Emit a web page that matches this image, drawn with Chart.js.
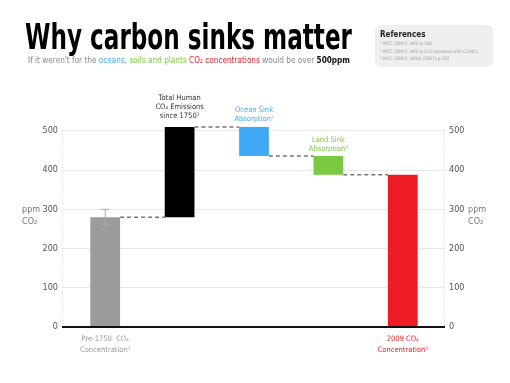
<!DOCTYPE html>
<html>
<head>
<meta charset="utf-8">
<script src="https://cdn.jsdelivr.net/npm/chart.js@4"></script>
<style>
html, body { margin: 0; padding: 0; background: #fff; }
</style>
</head>
<body>
<canvas id="chart" width="510" height="383"></canvas>
<script>
// data (ppm CO2)
const categories = ["Pre-1750 CO2", "Human emissions", "Ocean sink", "Land sink", "2009 CO2"];
const barLow = [0, 280, 436, 388, 0];
const barHigh = [280, 510, 510, 436, 388];
const errLow = [262, null, null, null, null];
const errHigh = [300, null, null, null, null];
const connectorValues = [280, 510, 436, 388];
const yTicks = [0, 100, 200, 300, 400, 500];
const barColors = ["#9b9b9b", "#000000", "#3fa9f5", "#7ac943", "#ed1c24"];

const NARROW = "'Liberation Sans Narrow', 'DejaVu Sans Condensed', 'Liberation Sans', sans-serif";
const HEAVY = "'DejaVu Sans Condensed', 'Liberation Sans Narrow', sans-serif";

function fitText(ctx, runs, x, y, width, align) {
    let total = 0;
    runs.forEach(r => { ctx.font = r.font; total += ctx.measureText(r.t).width; });
    const k = width ? width / total : 1;
    ctx.save();
    let start = x;
    if (align === "center") start = x - total * k / 2;
    ctx.translate(start, y);
    ctx.scale(k, 1);
    ctx.textAlign = "left";
    let cx = 0;
    runs.forEach(r => {
        ctx.font = r.font;
        ctx.fillStyle = r.c;
        ctx.fillText(r.t, cx, 0);
        cx += ctx.measureText(r.t).width;
    });
    ctx.restore();
}

function lbl(t, c, size, bold) {
    return { t: t, c: c, font: (bold ? "bold " : "") + size + "px " + NARROW };
}

const decorations = {
    id: "decorations",
    beforeDraw(chart) {
        const ctx = chart.ctx;
        ctx.save();
        ctx.fillStyle = "#fff";
        ctx.fillRect(0, 0, chart.width, chart.height);
        ctx.textBaseline = "alphabetic";
        // title
        fitText(ctx, [{ t: "Why carbon sinks matter", c: "#000", font: "bold 36px " + HEAVY }], 25, 49, 327);
        // subtitle
        fitText(ctx, [
            lbl("If it weren't for the ", "#8a8a8a", 8),
            lbl("oceans", "#3fa9f5", 8),
            lbl(", ", "#8a8a8a", 8),
            lbl("soils and plants ", "#7ac943", 8),
            lbl("CO\u2082 concentrations", "#ed1c24", 8),
            lbl(" would be over ", "#8a8a8a", 8),
            lbl("500ppm", "#111", 8, true)
        ], 28, 63, 322);
        // references box
        ctx.fillStyle = "#efefef";
        ctx.beginPath();
        ctx.roundRect(375, 25, 118, 42, 6);
        ctx.fill();
        fitText(ctx, [lbl("References", "#222", 8, true)], 380, 37);
        const refs = ["\u00b9 IPCC (2007), WGI p.100",
            "\u00b2 IPCC (2007), WGI p.515 (updated with CDIAC)",
            "\u00b3 IPCC (2007), WGIII (2007) p.102"];
        refs.forEach((r, i) => fitText(ctx, [lbl(r, "#9a9a9a", 4.6)], 380, 45 + i * 7.5));
        // axis titles
        [22, 468].forEach(x => {
            fitText(ctx, [lbl("ppm", "#777", 9)], x, 212);
            fitText(ctx, [lbl("CO\u2082", "#777", 9)], x, 224);
        });
        ctx.restore();
    },
    beforeDatasetsDraw(chart) {
        // faint dotted axis lines
        const ctx = chart.ctx;
        const area = chart.chartArea;
        ctx.save();
        ctx.strokeStyle = "#dcdcdc";
        ctx.lineWidth = 1;
        ctx.setLineDash([1, 2]);
        [area.left - 5.5, area.right + 4.5].forEach(x => {
            ctx.beginPath();
            ctx.moveTo(x, chart.scales.y.getPixelForValue(500));
            ctx.lineTo(x, area.bottom);
            ctx.stroke();
        });
        ctx.restore();
    },
    afterDatasetsDraw(chart) {
        const ctx = chart.ctx;
        const y = chart.scales.y;
        const area = chart.chartArea;
        const bars = chart.getDatasetMeta(0).data;
        ctx.save();
        // baseline
        ctx.strokeStyle = "#111";
        ctx.lineWidth = 2;
        ctx.beginPath();
        ctx.moveTo(area.left - 6, y.getPixelForValue(0));
        ctx.lineTo(area.right + 5, y.getPixelForValue(0));
        ctx.stroke();
        // connectors
        ctx.strokeStyle = "#777";
        ctx.lineWidth = 1.5;
        ctx.setLineDash([4, 3]);
        connectorValues.forEach((v, i) => {
            const a = bars[i], b = bars[i + 1];
            const py = y.getPixelForValue(v);
            ctx.beginPath();
            ctx.moveTo(a.x + a.width / 2, py);
            ctx.lineTo(b.x - b.width / 2, py);
            ctx.stroke();
        });
        ctx.setLineDash([]);
        // error bar
        ctx.strokeStyle = "#aaa";
        ctx.lineWidth = 1;
        errLow.forEach((lo, i) => {
            if (lo == null) return;
            const x = bars[i].x;
            const y1 = y.getPixelForValue(lo), y2 = y.getPixelForValue(errHigh[i]);
            ctx.beginPath();
            ctx.moveTo(x, y1); ctx.lineTo(x, y2);
            ctx.moveTo(x - 4, y1); ctx.lineTo(x + 4, y1);
            ctx.moveTo(x - 4, y2); ctx.lineTo(x + 4, y2);
            ctx.stroke();
        });
        // bar labels
        const top = i => y.getPixelForValue(barHigh[i]);
        const bottom = y.getPixelForValue(0);
        fitText(ctx, [lbl("Total Human", "#333", 7.5)], bars[1].x, top(1) - 27, 0, "center");
        fitText(ctx, [lbl("CO\u2082 Emissions", "#333", 7.5)], bars[1].x, top(1) - 18, 0, "center");
        fitText(ctx, [lbl("since 1750\u00b9", "#333", 7.5)], bars[1].x, top(1) - 9, 0, "center");
        fitText(ctx, [lbl("Ocean Sink", "#3fa9f5", 7.5)], bars[2].x, top(2) - 15, 0, "center");
        fitText(ctx, [lbl("Absorption\u00b2", "#3fa9f5", 7.5)], bars[2].x, top(2) - 6, 0, "center");
        fitText(ctx, [lbl("Land Sink", "#7ac943", 7.5)], bars[3].x, top(3) - 14, 0, "center");
        fitText(ctx, [lbl("Absorption\u00b3", "#7ac943", 7.5)], bars[3].x, top(3) - 5, 0, "center");
        fitText(ctx, [lbl("Pre-1750  CO\u2082", "#999", 7.5)], bars[0].x, bottom + 14, 0, "center");
        fitText(ctx, [lbl("Concentration\u00b9", "#999", 7.5)], bars[0].x, bottom + 25, 0, "center");
        fitText(ctx, [lbl("2009 CO\u2082", "#ed1c24", 7.5)], bars[4].x, bottom + 14, 0, "center");
        fitText(ctx, [lbl("Concentration\u00b2", "#ed1c24", 7.5)], bars[4].x, bottom + 25, 0, "center");
        ctx.restore();
    }
};

function yAxis(position, width, tickLength, drawArea) {
    return {
        position: position,
        min: 0,
        max: 520,
        ticks: { padding: 4, color: "#555", font: { family: NARROW, size: 9 } },
        grid: { color: "#e8e8e8", tickColor: "#e8e8e8", tickLength: tickLength, drawOnChartArea: drawArea },
        border: { display: false },
        afterBuildTicks: axis => { axis.ticks = yTicks.map(v => ({ value: v })); },
        afterFit: axis => { axis.width = width; }
    };
}

new Chart(document.getElementById("chart"), {
    type: "bar",
    data: {
        labels: categories,
        datasets: [{
            data: barLow.map((lo, i) => [lo, barHigh[i]]),
            backgroundColor: barColors,
            borderWidth: 0,
            barPercentage: 0.4,
            categoryPercentage: 1,
            yAxisID: "y"
        }]
    },
    options: {
        responsive: false,
        devicePixelRatio: 1,
        animation: false,
        layout: { padding: { top: 123, bottom: 56, left: 0, right: 0 } },
        plugins: { legend: { display: false }, tooltip: { enabled: false } },
        scales: {
            x: { display: false },
            y: yAxis("left", 68, 6, true),
            y2: yAxis("right", 70, 5, false)
        }
    },
    plugins: [decorations]
});
</script>
</body>
</html>
